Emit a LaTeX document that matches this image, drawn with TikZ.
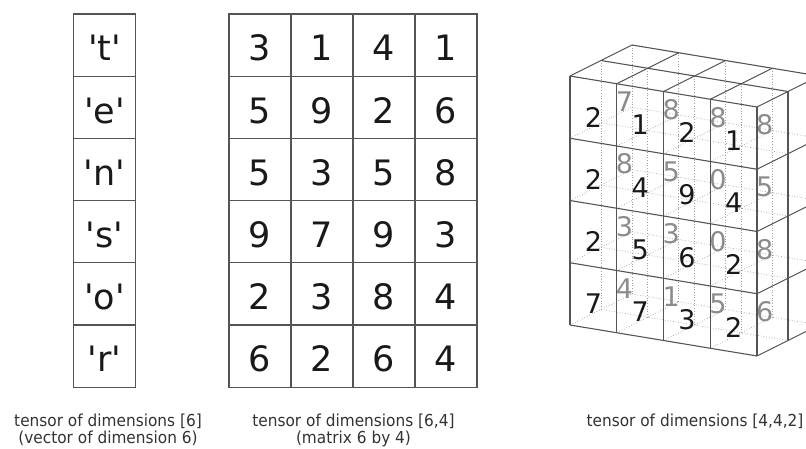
\documentclass[tikz,border=0pt]{standalone}
\usepackage{fontspec}
\newfontfamily\dvfont{DejaVu Sans}
\newfontfamily\capfont[FakeStretch=0.93]{DejaVu Sans}
\definecolor{gridgray}{HTML}{555555}
\definecolor{backnum}{HTML}{8C8C8C}
\definecolor{hiddengray}{HTML}{A0A0A0}
\tikzset{
  cell/.style={draw=gridgray, line width=1.2pt, minimum width=62pt, minimum height=62.2pt,
    inner sep=0pt, outer sep=0pt, font=\dvfont\fontsize{35}{35}\selectfont, text=black!90,
    text height=31.5pt, text depth=0pt},
  caption/.style={font=\capfont\fontsize{16.5}{17}\selectfont, anchor=base, text=black!80},
  frontnum/.style={font=\dvfont\fontsize{27}{27}\selectfont, inner sep=0pt, text=black!90},
  backnum/.style={frontnum, text=backnum},
  edge3d/.style={draw=gridgray, line width=1.1pt},
  hid/.style={draw=hiddengray, line width=0.7pt, dotted},
}

\begin{document}
\begin{tikzpicture}[x=1pt, y=-1pt]
  \useasboundingbox (0,0) rectangle (806,449);
  \clip (0,0) rectangle (806,449);

  % vector
  \foreach \ch [count=\i] in {t,e,n,s,o,r}
    \node[cell] (v\i) at (104.5,{45.1+62.2*(\i-1)}) {\textquotesingle\ch\textquotesingle};

  % matrix
  \foreach \row [count=\i] in {{3,1,4,1},{5,9,2,6},{5,3,5,8},{9,7,9,3},{2,3,8,4},{6,2,6,4}}
    \foreach \val [count=\j] in \row
      \node[cell] (m\i\j) at ({260+62*(\j-1)},{45.1+62.2*(\i-1)}) {\val};

  % tensor 4x4x2
  \begin{scope}[shift={(570,76)}, x={(46.75pt,-7.75pt)}, y={(0pt,-62.25pt)}, z={(31pt,15.5pt)}]
    % hidden lines
    \foreach \k in {1,2} {
      \foreach \i in {1,...,4} \draw[hid] (0,\i,\k) -- (4,\i,\k);
      \foreach \j in {0,...,3} \draw[hid] (\j,0,\k) -- (\j,4,\k);
    }
    \foreach \i in {1,...,4}
      \foreach \j in {0,...,3} \draw[hid] (\j,\i,0) -- (\j,\i,2);
    % back layer
    \foreach \row [count=\i] in {{7,8,8,8},{8,5,0,5},{3,3,0,8},{4,1,5,6}}
      \foreach \val [count=\j] in \row
        \node[backnum] (b\i\j) at ({\j-0.5},{\i-0.4},1) {\val};
    % front, top and right faces
    \foreach \i in {0,...,4} \draw[edge3d] (0,\i,0) -- (4,\i,0);
    \foreach \j in {0,...,4} \draw[edge3d] (\j,0,0) -- (\j,4,0);
    \foreach \k in {1,2} \draw[edge3d] (0,0,\k) -- (4,0,\k);
    \foreach \j in {0,...,4} \draw[edge3d] (\j,0,0) -- (\j,0,2);
    \foreach \k in {1,2} \draw[edge3d] (4,0,\k) -- (4,4,\k);
    \foreach \i in {1,...,4} \draw[edge3d] (4,\i,0) -- (4,\i,2);
    % front layer
    \foreach \row [count=\i] in {{2,1,2,1},{2,4,9,4},{2,5,6,2},{7,7,3,2}}
      \foreach \val [count=\j] in \row
        \node[frontnum] (f\i\j) at ({\j-0.5},{\i-0.4},0) {\val};
  \end{scope}

  % captions
  \node[caption] (cap1a) at (108,426.5) {tensor of dimensions [6]};
  \node[caption] (cap1b) at (108,443) {(vector of dimension 6)};
  \node[caption] (cap2a) at (353.5,426.5) {tensor of dimensions [6,4]};
  \node[caption] (cap2b) at (353.5,443) {(matrix 6 by 4)};
  \node[caption] (cap3a) at (695,426.5) {tensor of dimensions [4,4,2]};
\end{tikzpicture}
\end{document}
